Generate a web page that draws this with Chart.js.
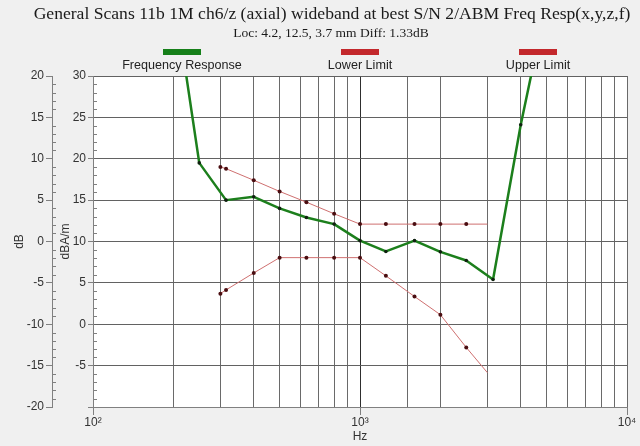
<!DOCTYPE html>
<html>
<head>
<meta charset="utf-8">
<script src="https://cdn.jsdelivr.net/npm/chart.js"></script>
<style>
  html, body { margin: 0; padding: 0; background: #f0f0f0; }
  #wrap { width: 640px; height: 446px; }
</style>
</head>
<body>
<div id="wrap"><canvas id="chart" width="640" height="446"></canvas></div>
<script>
const titleText = "General Scans 11b 1M ch6/z (axial) wideband at best S/N 2/ABM Freq Resp(x,y,z,f)";
const subtitleText = "Loc: 4.2, 12.5, 3.7 mm Diff: 1.33dB";

// frequency response (dB)
const respFreqs = [200, 250, 315, 400, 500, 630, 800, 1000, 1250, 1600, 2000, 2500, 3150, 4000, 5000];
const respValues = [30.5, 9.5, 5.0, 5.4, 4.0, 2.9, 2.1, 0.1, -1.2, 0.1, -1.25, -2.3, -4.6, 14.1, 29];

// limits (dB)
const limitFreqs = [300, 315, 400, 500, 630, 800, 1000, 1250, 1600, 2000, 2500, 3000];
const lowerLimit = [-6.3, -5.85, -3.8, -1.95, -1.95, -1.95, -1.95, -4.15, -6.65, -8.85, -12.8, -15.85];
const upperLimit = [9.0, 8.8, 7.4, 6.05, 4.75, 3.35, 2.1, 2.1, 2.1, 2.1, 2.1, 2.1];

const xTickValues = [100, 1000, 10000];
const xTickLabels = ["10\u00b2", "10\u00b3", "10\u2074"];

const FONT = '"Liberation Sans", Arial, sans-serif';
const SERIF = '"Liberation Serif", "Times New Roman", serif';
const legendBarColors = ['#16801a', '#c3282c', '#c3282c'];

function pts(xs, ys) {
    return xs.map((x, i) => ({ x: x, y: ys[i] }));
}
function isDecade(v) {
    return xTickValues.some(d => Math.abs(d - v) < 1e-6);
}
const limitRadius = limitFreqs.map((f, i) => i === limitFreqs.length - 1 ? 0 : 2);

const decorPlugin = {
    id: 'decor',
    beforeDraw(chart) {
        const { ctx, chartArea } = chart;
        ctx.save();
        ctx.fillStyle = '#f0f0f0';
        ctx.fillRect(0, 0, chart.width, chart.height);
        ctx.fillStyle = '#ffffff';
        ctx.fillRect(chartArea.left, chartArea.top, chartArea.right - chartArea.left, chartArea.bottom - chartArea.top);
        ctx.restore();
    },
    afterDraw(chart) {
        const { ctx, chartArea } = chart;
        ctx.save();
        // minor ticks on both y axes
        ctx.strokeStyle = '#808080';
        ctx.lineWidth = 1;
        ['yDb', 'yDbam'].forEach(id => {
            const s = chart.scales[id];
            for (let v = s.min; v <= s.max; v++) {
                if (v % 5 === 0) continue;
                const y = Math.round(s.getPixelForValue(v)) + 0.5;
                ctx.beginPath();
                ctx.moveTo(s.right, y);
                ctx.lineTo(s.right + 4, y);
                ctx.stroke();
            }
        });

        // titles
        ctx.fillStyle = '#1a1a1a';
        ctx.textAlign = 'center';
        ctx.textBaseline = 'middle';
        ctx.font = '17.6px ' + SERIF;
        ctx.fillText(titleText, 332, 14);
        ctx.font = '13.5px ' + SERIF;
        ctx.fillText(subtitleText, 331, 33);

        // legend: colour bar above each label
        const w = chartArea.right - chartArea.left;
        chart.data.datasets.forEach((ds, i) => {
            const cx = chartArea.left + w * (i + 0.5) / 3;
            ctx.fillStyle = legendBarColors[i];
            ctx.fillRect(Math.round(cx - 19), 49, 38, 6);
            ctx.fillStyle = '#222';
            ctx.font = '12.6px ' + FONT;
            ctx.fillText(ds.label, cx, 66);
        });
        ctx.restore();
    }
};

new Chart(document.getElementById('chart'), {
    type: 'line',
    data: {
        datasets: [{
            label: 'Frequency Response',
            data: pts(respFreqs, respValues),
            borderColor: '#1c7f1c',
            borderWidth: 2.5,
            borderJoinStyle: 'round',
            pointRadius: 1.8,
            pointBorderWidth: 0,
            pointBackgroundColor: '#102010',
            xAxisID: 'x',
            yAxisID: 'yDb'
        }, {
            label: 'Lower Limit',
            data: pts(limitFreqs, lowerLimit),
            borderColor: '#cf7070',
            borderWidth: 1,
            pointRadius: limitRadius,
            pointBorderWidth: 0,
            pointBackgroundColor: '#4a0d10',
            xAxisID: 'x',
            yAxisID: 'yDb'
        }, {
            label: 'Upper Limit',
            data: pts(limitFreqs, upperLimit),
            borderColor: '#cf7070',
            borderWidth: 1,
            pointRadius: limitRadius,
            pointBorderWidth: 0,
            pointBackgroundColor: '#4a0d10',
            xAxisID: 'x',
            yAxisID: 'yDb'
        }]
    },
    options: {
        responsive: false,
        animation: false,
        devicePixelRatio: 1,
        layout: { padding: { top: 76, right: 13, bottom: 0, left: 0 } },
        plugins: {
            legend: { display: false },
            title: { display: false },
            tooltip: { enabled: false }
        },
        scales: {
            x: {
                type: 'logarithmic',
                min: 100,
                max: 10000,
                afterFit: s => { s.height = 39; },
                ticks: {
                    autoSkip: false,
                    maxRotation: 0,
                    padding: 0,
                    color: '#333',
                    font: { family: FONT, size: 12 },
                    callback: v => {
                        const i = xTickValues.findIndex(d => Math.abs(d - v) < 1e-6);
                        return i >= 0 ? xTickLabels[i] : '';
                    }
                },
                grid: {
                    color: c => (c.tick && Math.abs(c.tick.value - 1000) < 1e-6) ? '#2e2e2e' : '#6a6a6a',
                    tickLength: 8,
                    tickColor: c => (c.tick && isDecade(c.tick.value)) ? '#808080' : 'rgba(0,0,0,0)'
                },
                border: { color: '#808080' },
                title: {
                    display: true,
                    text: 'Hz',
                    color: '#333',
                    padding: { top: 0, bottom: 2 },
                    font: { family: FONT, size: 12 }
                }
            },
            yDb: {
                type: 'linear',
                position: 'left',
                min: -20,
                max: 20,
                weight: 2,
                afterFit: s => { s.width = 52; },
                ticks: { stepSize: 5, padding: 2, color: '#333', font: { family: FONT, size: 12 } },
                grid: { drawOnChartArea: false, tickLength: 6, tickColor: '#808080' },
                border: { color: '#808080' },
                title: {
                    display: true,
                    text: 'dB',
                    color: '#333',
                    padding: { top: 12, bottom: 0 },
                    font: { family: FONT, size: 12 }
                }
            },
            yDbam: {
                type: 'linear',
                position: 'left',
                min: -10,
                max: 30,
                weight: 1,
                afterFit: s => { s.width = 41; },
                ticks: {
                    stepSize: 5,
                    padding: 2,
                    color: '#333',
                    font: { family: FONT, size: 12 },
                    callback: v => v === -10 ? '' : v
                },
                grid: { color: '#626262', tickLength: 5, tickColor: '#808080' },
                border: { color: '#808080' },
                title: {
                    display: true,
                    text: 'dBA/m',
                    color: '#333',
                    padding: { top: 6, bottom: 0 },
                    font: { family: FONT, size: 12 }
                }
            }
        }
    },
    plugins: [decorPlugin]
});
</script>
</body>
</html>
